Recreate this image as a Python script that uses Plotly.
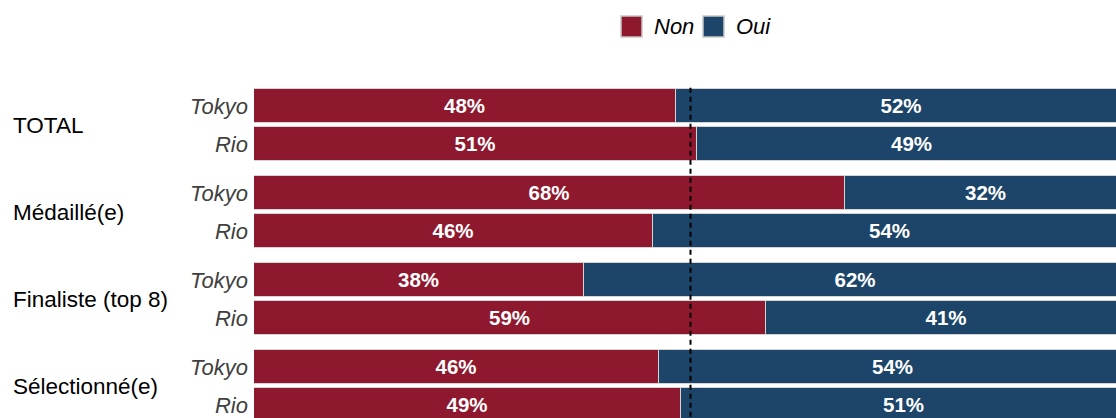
import plotly.graph_objects as go

groups = ["TOTAL", "Médaillé(e)", "Finaliste (top 8)", "Sélectionné(e)"]
editions = ["Tokyo", "Rio"]
non_values = [48.3, 50.7, 67.7, 45.7, 37.8, 58.6, 46.4, 48.9]
oui_values = [51.7, 49.3, 32.3, 54.3, 62.2, 41.4, 53.6, 51.1]
series_names = ["Non", "Oui"]
series_colors = ["#8E182D", "#1C4569"]

W, H = 1116, 418
ML, MR, MT, MB = 254, 0, 80, 0
PW, PH = W - ML - MR, H - MT - MB
GROUP_STEP = 2.29
BAR_W = 0.895

# category positions (layout only)
ypos, ylabels = [], []
for g in range(len(groups)):
    for s, ed in enumerate(editions):
        ypos.append(g * GROUP_STEP + s)
        ylabels.append(ed)
group_centers = [g * GROUP_STEP + 0.5 for g in range(len(groups))]

FONT = "Liberation Sans, Arial, sans-serif"

fig = go.Figure()
for name, vals, col in zip(series_names, [non_values, oui_values], series_colors):
    fig.add_trace(go.Bar(
        x=vals, y=ypos, orientation="h", name=name, width=BAR_W,
        marker=dict(color=col, line=dict(color="#d4d4d4", width=1)),
        texttemplate="<b>%{x:.0f}%</b>", textposition="inside",
        insidetextanchor="middle",
        textfont=dict(color="white", size=20.5, family=FONT),
        showlegend=False,
    ))

px_per_unit_x = 8.73
x_max = PW / px_per_unit_x
px_per_unit_y = 38.0
y_top = -(106 - MT) / px_per_unit_y
y_bot = y_top + PH / px_per_unit_y

def px_x(p):  # page pixel -> paper
    return (p - ML) / PW

def px_y(p):
    return 1 - (p - MT) / PH

shapes = [dict(type="line", xref="x", yref="y", x0=50, x1=50,
               y0=-BAR_W / 2 - 0.03, y1=y_bot + 1,
               line=dict(color="black", width=2, dash="5px,4px"), layer="above")]
annotations = []
for g, name in enumerate(groups):
    annotations.append(dict(text=name, xref="paper", yref="y", x=px_x(11), y=group_centers[g],
                            xanchor="left", yanchor="middle", showarrow=False,
                            font=dict(size=22.5, color="black", family=FONT)))

# manual legend
leg_items = [(621, 652), (703, 734)]
for (sx, tx), name, col in zip(leg_items, series_names, series_colors):
    shapes.append(dict(type="rect", xref="paper", yref="paper",
                       x0=px_x(sx), x1=px_x(sx + 21), y0=px_y(16), y1=px_y(37),
                       fillcolor=col, line=dict(color="#c8c8c8", width=1.5)))
    annotations.append(dict(text=name, xref="paper", yref="paper", x=px_x(tx), y=px_y(27),
                            xanchor="left", yanchor="middle", showarrow=False,
                            font=dict(size=22, color="black", family=FONT, style="italic")))

fig.update_layout(
    width=W, height=H, barmode="stack", bargap=0,
    margin=dict(l=ML, r=MR, t=MT, b=MB, pad=0),
    paper_bgcolor="white", plot_bgcolor="white",
    font=dict(family=FONT),
    xaxis=dict(range=[0, x_max], visible=False, fixedrange=True),
    yaxis=dict(range=[y_bot, y_top], tickvals=ypos, ticktext=ylabels,
               tickfont=dict(size=22, color="#404040", family=FONT, style="italic"),
               showgrid=False, zeroline=False, showline=False, ticks="",
               ticklabelstandoff=5, automargin=False, fixedrange=True),
    shapes=shapes, annotations=annotations,
)

fig.write_html(
    "out.html",
    config={"displayModeBar": False},
    post_script="document.body.style.margin='0';document.body.style.overflow='hidden';",
)
